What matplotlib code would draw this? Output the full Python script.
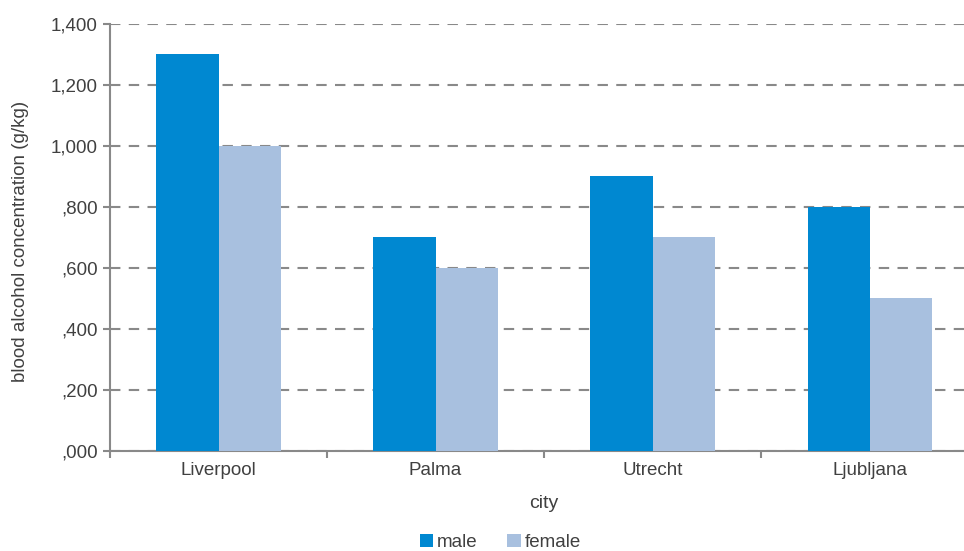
import matplotlib.pyplot as plt
from matplotlib.ticker import FuncFormatter
import numpy as np

plt.rcParams['font.family'] = ['Liberation Sans', 'DejaVu Sans']

cities = ["Liverpool", "Palma", "Utrecht", "Ljubljana"]
male = [1.3, 0.7, 0.9, 0.8]
female = [1.0, 0.6, 0.7, 0.5]
yticks = [0, 0.2, 0.4, 0.6, 0.8, 1.0, 1.2, 1.4]

blue = "#0088d1"
light = "#a8c0df"
grey = "#898989"
text_c = "#404040"

fig = plt.figure(figsize=(9.64, 5.51), dpi=100)
ax = fig.add_axes([0.1141, 0.1815, 0.8859, 0.775])

x = np.arange(len(cities))
w = 0.286
ax.bar(x - w / 2, male, w, color=blue, label="male", zorder=3)
ax.bar(x + w / 2, female, w, color=light, label="female", zorder=3)

ax.set_yticks(yticks)


def fmt(v, pos):
    # 1.4 -> "1,400", 0.2 -> ",200"
    whole = int(round(v * 1000))
    if whole < 1000:
        return "," + f"{whole:03d}"
    return f"{whole // 1000},{whole % 1000:03d}"


ax.yaxis.set_major_formatter(FuncFormatter(fmt))
ax.set_xticks(x)
ax.set_xticklabels(cities)
ax.set_xticks(np.arange(len(cities) + 1) - 0.5, minor=True)
# plot area runs a little past the right edge of the image
ax.set_ylim(0, 1.4)
ax.set_xlim(-0.5, 3.435)

ax.tick_params(axis="x", which="major", length=0, pad=8, labelsize=13.5, labelcolor=text_c)
ax.tick_params(axis="x", which="minor", length=5, color=grey, width=1.5)
ax.tick_params(axis="y", length=5, color=grey, width=1.5, labelsize=13.5, labelcolor=text_c, pad=4)

ax.yaxis.grid(True, linestyle=(0, (5, 4)), color=grey, linewidth=1.5, zorder=0)
for side in ["top", "right"]:
    ax.spines[side].set_visible(False)
for side in ["left", "bottom"]:
    ax.spines[side].set_color(grey)
    ax.spines[side].set_linewidth(1.5)

ax.set_ylabel("blood alcohol concentration (g/kg)", fontsize=13.5, color=text_c, va="center")
ax.yaxis.set_label_coords(-0.105, 0.49)
ax.set_xlabel("city", fontsize=14, color=text_c, va="center")
ax.xaxis.set_label_coords(0.508, -0.122)

ax.legend(loc="center", bbox_to_anchor=(0.457, -0.215), ncol=2, frameon=False,
          fontsize=13.5, handlelength=0.7, handleheight=0.7, handletextpad=0.2,
          columnspacing=1.6, labelcolor=text_c, borderpad=0.2)

fig.savefig("out.png", dpi=100)
